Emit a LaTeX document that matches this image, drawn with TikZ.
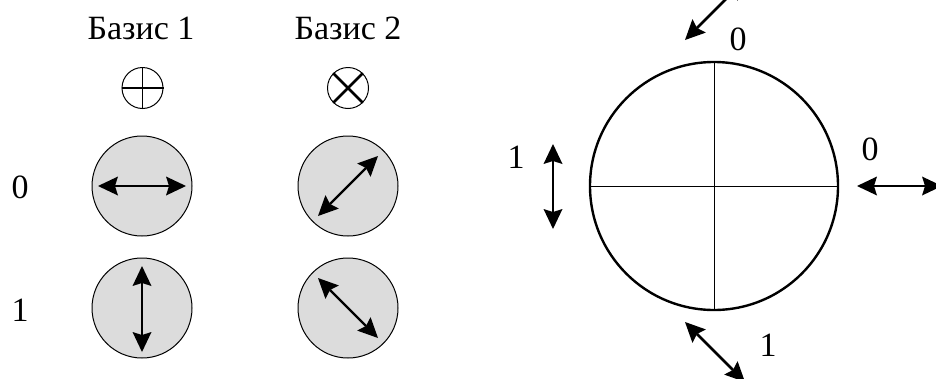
\documentclass[tikz,border=0pt]{standalone}
\usepackage{fontspec}
\setmainfont{Liberation Serif}
\usetikzlibrary{arrows.meta,calc}
\definecolor{lgray}{RGB}{220,220,220}
\tikzset{
  polar/.style={circle,draw=black,line width=1pt,fill=lgray,minimum size=100pt,inner sep=0pt},
  tipA/.tip={Stealth[length=20pt,width=19pt,inset=3pt,line width=0pt]},
  dbl/.style={line width=2.2pt,tipA-tipA},
  dblb/.style={line width=2.6pt,tipA-tipA},
  lbl/.style={font=\fontsize{34}{36}\selectfont,inner sep=0pt},
  symb/.style={circle,draw=black,line width=1pt,minimum size=41pt,inner sep=0pt}
}
\begin{document}
\begin{tikzpicture}[x=1pt,y=-1pt]
\useasboundingbox (0,0) rectangle (936,378);
\clip (0,0) rectangle (936,378);
\fill[white] (0,0) rectangle (936,378);
% headers
\node[lbl] (h1) at (141,28) {Базис 1};
\node[lbl] (h2) at (348,28) {Базис 2};
% basis symbols
\node[symb] (s1) at (142.5,88) {};
\draw[line width=1.6pt] (s1.north) -- (s1.south);
\draw[line width=1.6pt] (s1.west) -- (s1.east);
\node[symb] (s2) at (348,88) {};
\draw[line width=2.6pt] (s2.north west) -- (s2.south east);
\draw[line width=2.6pt] (s2.north east) -- (s2.south west);
% row labels
\node[lbl] (r0) at (20,187) {0};
\node[lbl] (r1) at (20,310) {1};
% polarizer discs
\node[polar] (a0) at (142,186) {};
\node[polar] (a1) at (142,308) {};
\node[polar] (b0) at (348,186) {};
\node[polar] (b1) at (348,308) {};
\coordinate (a0L) at ($(a0)+(-44,0)$);
\coordinate (a0R) at ($(a0)+(44,0)$);
\coordinate (a1T) at ($(a1)+(0,-42)$);
\coordinate (a1B) at ($(a1)+(0,44)$);
\coordinate (b0L) at ($(b0)+(-30,30)$);
\coordinate (b0R) at ($(b0)+(30,-30)$);
\coordinate (b1L) at ($(b1)+(-30,-30)$);
\coordinate (b1R) at ($(b1)+(30,30)$);
\draw[dbl] (a0L) -- (a0R);
\draw[dbl] (a1T) -- (a1B);
\draw[dbl] (b0L) -- (b0R);
\draw[dbl] (b1L) -- (b1R);
% right: big circle
\coordinate (C) at (714,186);
\draw[line width=0.9pt] ($(C)+(-124,0)$) -- ($(C)+(124,0)$);
\draw[line width=0.9pt] ($(C)+(0,-124)$) -- ($(C)+(0,124)$);
\draw[line width=2.4pt] (C) circle (124);
% outer arrows
\coordinate (tA) at (685,40);
\coordinate (tB) at (745,-20);
\draw[dblb] (tB) -- (tA);
\node[lbl] (t0) at (738,39) {0};
\coordinate (lA) at (553,144);
\coordinate (lB) at (553,229);
\draw[dblb] (lA) -- (lB);
\node[lbl] (l1) at (516,157) {1};
\coordinate (rA) at (857,186);
\coordinate (rB) at (942,186);
\draw[dblb] (rA) -- (rB);
\node[lbl] (r0b) at (870,149) {0};
\coordinate (bA) at (685,322);
\coordinate (bB) at (745,382);
\draw[dblb] (bA) -- (bB);
\node[lbl] (b1l) at (768,345) {1};
\end{tikzpicture}
\end{document}
